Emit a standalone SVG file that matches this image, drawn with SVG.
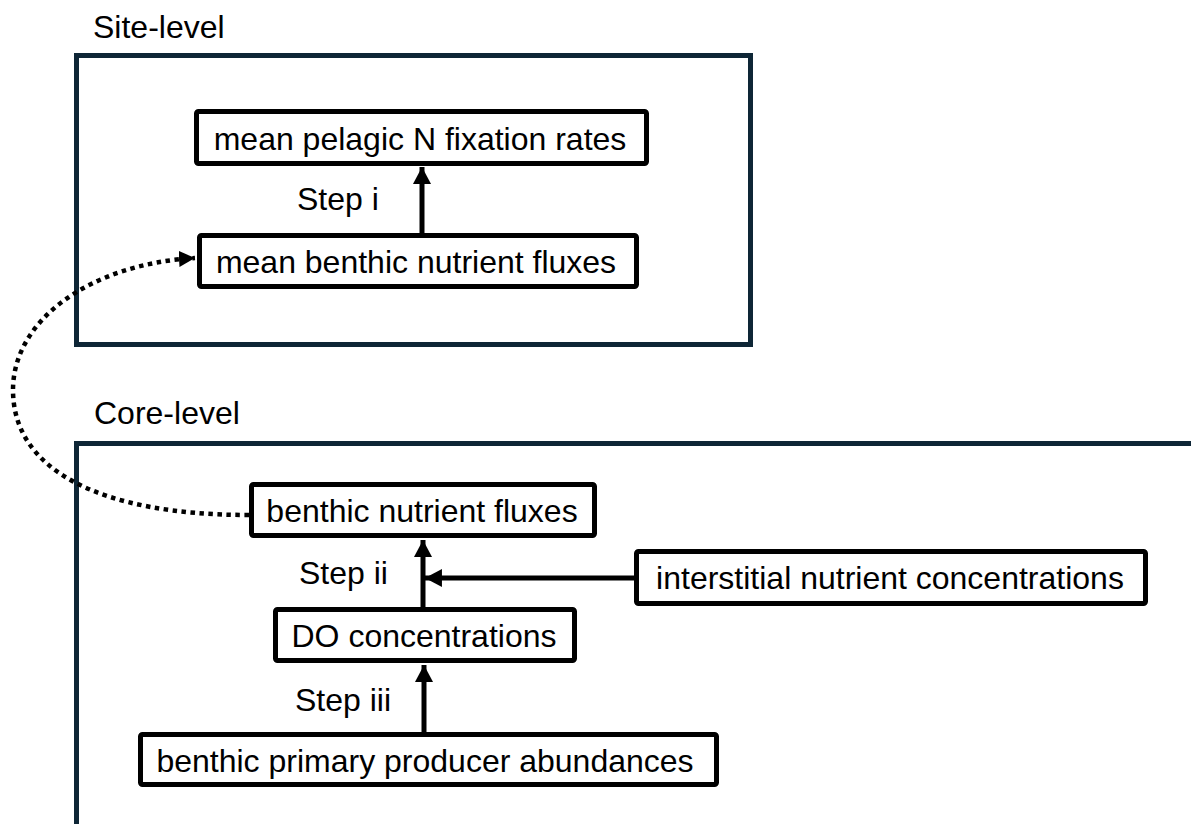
<svg xmlns="http://www.w3.org/2000/svg" width="1191" height="824" viewBox="0 0 1191 824">
<defs>
<style>
.lbl{font-family:"Liberation Sans",Arial,sans-serif;font-size:32px;fill:#000}
.node rect{fill:#fff;stroke:#000;stroke-width:5}
.node text{font-family:"Liberation Sans",Arial,sans-serif;font-size:32px;fill:#000;text-anchor:middle}
.frame{fill:none;stroke:#0e2636;stroke-width:5}
.arr{fill:none;stroke:#000;stroke-width:5;marker-end:url(#ah)}
.dot{fill:none;stroke:#000;stroke-width:4.5;stroke-dasharray:4.5 4.5;marker-end:url(#ah2)}
</style>
<marker id="ah" markerUnits="userSpaceOnUse" markerWidth="18" markerHeight="18" viewBox="0 0 16 17" refX="16" refY="8.5" orient="auto">
<path d="M0,0 L16,8.5 L0,17 Z" fill="#000"/>
</marker>
<marker id="ah2" markerUnits="userSpaceOnUse" markerWidth="16" markerHeight="16" viewBox="0 0 14 14" refX="14" refY="7" orient="auto">
<path d="M0,0 L14,7 L0,14 Z" fill="#000"/>
</marker>
</defs>
<rect width="1191" height="824" fill="#fff"/>
<g id="site-level">
<text class="lbl" x="93" y="38">Site-level</text>
<rect class="frame" x="76.5" y="55.5" width="674" height="289"/>
</g>
<g id="core-level">
<text class="lbl" x="94" y="424">Core-level</text>
<path class="frame" d="M76.5,830 V443.5 H1200"/>
</g>
<g id="connectors">
<path class="arr" d="M422,233 V167"/>
<path class="arr" d="M423,607 V540"/>
<path class="arr" d="M634,578 H425"/>
<path class="arr" d="M424,732 V665"/>
<path class="dot" d="M249,515 C100,515 13,470 13,390 C13,320 90,264 195,258"/>
<text class="lbl" x="297" y="210">Step i</text>
<text class="lbl" x="299" y="584">Step ii</text>
<text class="lbl" x="295" y="711">Step iii</text>
</g>
<g id="n-pelagic" class="node">
<rect x="196.5" y="111.5" width="450" height="52" rx="2"/>
<text x="420" y="150">mean pelagic N fixation rates</text>
</g>
<g id="n-mean-benthic" class="node">
<rect x="199.5" y="235.5" width="437" height="51" rx="2"/>
<text x="416" y="273">mean benthic nutrient fluxes</text>
</g>
<g id="n-benthic" class="node">
<rect x="251.5" y="484.5" width="343" height="51" rx="2"/>
<text x="422" y="522">benthic nutrient fluxes</text>
</g>
<g id="n-interstitial" class="node">
<rect x="636.5" y="551.5" width="509" height="52" rx="2"/>
<text x="890" y="589">interstitial nutrient concentrations</text>
</g>
<g id="n-do" class="node">
<rect x="275.5" y="609.5" width="299" height="51" rx="2"/>
<text x="424" y="647">DO concentrations</text>
</g>
<g id="n-primary" class="node">
<rect x="140.5" y="734.5" width="576" height="50" rx="2"/>
<text x="425" y="772">benthic primary producer abundances</text>
</g>
</svg>
